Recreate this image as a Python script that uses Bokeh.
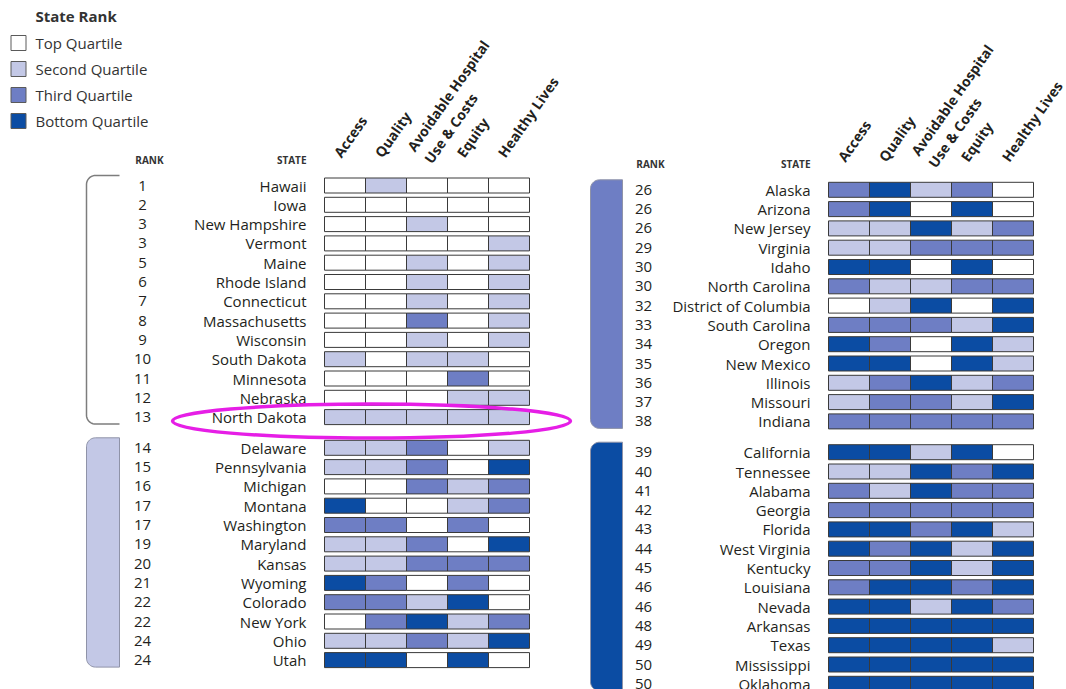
import numpy as np
from bokeh.plotting import figure
from bokeh.models import Range1d
from bokeh.embed import file_html
from bokeh.resources import INLINE
from bokeh.core.properties import value

# ---------------- data ----------------
legend_title = "State Rank"
quartile_labels = ["Top Quartile", "Second Quartile", "Third Quartile", "Bottom Quartile"]
quartile_colors = ["#ffffff", "#c3c8e6", "#6e7ec4", "#0b4ca3"]

metrics = ["Access", "Quality", "Avoidable Hospital\nUse & Costs", "Equity", "Healthy Lives"]
rank_header = "RANK"
state_header = "STATE"
highlight_state = "North Dakota"

# scores: quartile per dimension (1 = top ... 4 = bottom)
top_states = ["Hawaii", "Iowa", "New Hampshire", "Vermont", "Maine", "Rhode Island",
              "Connecticut", "Massachusetts", "Wisconsin", "South Dakota", "Minnesota",
              "Nebraska", "North Dakota"]
top_ranks = [1, 2, 3, 3, 5, 6, 7, 8, 9, 10, 11, 12, 13]
top_scores = [[1, 2, 1, 1, 1], [1, 1, 1, 1, 1], [1, 1, 2, 1, 1], [1, 1, 1, 1, 2],
              [1, 1, 2, 1, 2], [1, 1, 2, 1, 2], [1, 1, 2, 1, 2], [1, 1, 3, 1, 2],
              [1, 1, 2, 1, 2], [2, 1, 2, 2, 1], [1, 1, 1, 3, 1], [1, 1, 1, 2, 2],
              [2, 2, 2, 2, 2]]

second_states = ["Delaware", "Pennsylvania", "Michigan", "Montana", "Washington", "Maryland",
                 "Kansas", "Wyoming", "Colorado", "New York", "Ohio", "Utah"]
second_ranks = [14, 15, 16, 17, 17, 19, 20, 21, 22, 22, 24, 24]
second_scores = [[2, 2, 3, 1, 2], [2, 2, 3, 1, 4], [1, 1, 3, 2, 3], [4, 1, 1, 2, 3],
                 [3, 3, 1, 3, 1], [2, 2, 3, 1, 4], [2, 2, 3, 3, 3], [4, 3, 1, 3, 1],
                 [3, 3, 2, 4, 1], [1, 3, 4, 2, 3], [2, 2, 3, 2, 4], [4, 4, 1, 4, 1]]

third_states = ["Alaska", "Arizona", "New Jersey", "Virginia", "Idaho", "North Carolina",
                "District of Columbia", "South Carolina", "Oregon", "New Mexico", "Illinois",
                "Missouri", "Indiana"]
third_ranks = [26, 26, 26, 29, 30, 30, 32, 33, 34, 35, 36, 37, 38]
third_scores = [[3, 4, 2, 3, 1], [3, 4, 1, 4, 1], [2, 2, 4, 2, 3], [2, 2, 3, 3, 3],
                [4, 4, 1, 4, 1], [3, 2, 2, 3, 3], [1, 2, 4, 1, 4], [3, 3, 3, 2, 4],
                [4, 3, 1, 4, 2], [4, 4, 1, 4, 2], [2, 3, 4, 2, 3], [2, 3, 3, 2, 4],
                [3, 3, 3, 3, 3]]

bottom_states = ["California", "Tennessee", "Alabama", "Georgia", "Florida", "West Virginia",
                 "Kentucky", "Louisiana", "Nevada", "Arkansas", "Texas", "Mississippi",
                 "Oklahoma"]
bottom_ranks = [39, 40, 41, 42, 43, 44, 45, 46, 46, 48, 49, 50, 50]
bottom_scores = [[4, 4, 2, 4, 1], [2, 2, 4, 3, 4], [3, 2, 4, 3, 3], [3, 3, 3, 3, 3],
                 [4, 4, 3, 4, 2], [4, 3, 4, 2, 4], [3, 3, 4, 2, 4], [3, 4, 4, 3, 4],
                 [4, 4, 2, 4, 3], [4, 4, 4, 4, 4], [4, 4, 4, 4, 2], [4, 4, 4, 4, 4],
                 [4, 4, 4, 4, 4]]

# ---------------- layout ----------------
W, H = 1066, 689
FONT = value("Open Sans")
TXT = "#231f20"
ROW = 19.3
CELL_W, CELL_H = 41, 15

sides = [
    dict(cell_x=324, state_x=306, rank_x=142, brk_x0=86, brk_x1=119),
    dict(cell_x=828, state_x=810, rank_x=643, brk_x0=590, brk_x1=622),
]
groups = [
    dict(states=top_states, ranks=top_ranks, scores=top_scores, q=0, side=0, y0=185.0),
    dict(states=second_states, ranks=second_ranks, scores=second_scores, q=1, side=0, y0=447.3),
    dict(states=third_states, ranks=third_ranks, scores=third_scores, q=2, side=1, y0=189.3),
    dict(states=bottom_states, ranks=bottom_ranks, scores=bottom_scores, q=3, side=1, y0=451.7),
]

p = figure(width=W, height=H, x_range=Range1d(0, W), y_range=Range1d(-H, 0),
           output_backend="svg", toolbar_location=None, min_border=0,
           x_axis_location=None, y_axis_location=None)
p.grid.visible = False
p.outline_line_color = None
p.background_fill_color = "white"
p.border_fill_color = "white"


def bracket(x0, x1, yt, yb, r=9, n=12):
    t = np.linspace(0, np.pi / 2, n)
    xs = [x1] + list(x0 + r - r * np.sin(t)) + list(x0 + r - r * np.cos(t)) + [x1]
    ys = [yt] + list(yt + r - r * np.cos(t)) + list(yb - r + r * np.sin(t)) + [yb]
    return xs, [-v for v in ys]


# brackets
for g in groups:
    s = sides[g["side"]]
    yt = g["y0"] - 10
    yb = g["y0"] + (len(g["states"]) - 1) * ROW + 7
    bx, by = bracket(s["brk_x0"], s["brk_x1"], yt, yb)
    if g["q"] == 0:
        p.line(bx, by, line_color="#7d7d7d", line_width=1.5)
    else:
        p.patch(bx, by, fill_color=quartile_colors[g["q"]], line_color="#8f93a8", line_width=1)

# cells, labels
cx, cy, cc = [], [], []
for g in groups:
    s = sides[g["side"]]
    ys = [-(g["y0"] + i * ROW) for i in range(len(g["states"]))]
    for i, row in enumerate(g["scores"]):
        for j, q in enumerate(row):
            cx.append(s["cell_x"] + (j + 0.5) * CELL_W)
            cy.append(ys[i])
            cc.append(quartile_colors[q - 1])
    p.text(x=[s["state_x"]] * len(ys), y=ys, text=g["states"], text_align="right",
           text_baseline="middle", text_font=FONT, text_font_size="15px", text_color=TXT)
    p.text(x=[s["rank_x"]] * len(ys), y=ys, text=[str(r) for r in g["ranks"]],
           text_align="center", text_baseline="middle", text_font=FONT,
           text_font_size="15px", text_color=TXT)

p.rect(x=cx, y=cy, width=CELL_W, height=CELL_H, fill_color=cc, line_color="#3a3a3a",
       line_width=1)

# column headers
for side_idx, s in enumerate(sides):
    g0 = [g for g in groups if g["side"] == side_idx][0]
    hy = -(g0["y0"] - 30)
    hx = [s["cell_x"] + (j + 0.5) * CELL_W - 8 for j in range(len(metrics))]
    p.text(x=hx, y=[hy] * len(metrics), text=metrics, angle=np.deg2rad(55),
           text_align="left", text_baseline="middle", text_font=FONT,
           text_font_size="14px", text_font_style="bold", text_color=TXT,
           text_line_height=1.1)
    ry = -(g0["y0"] - 26)
    p.text(x=[s["rank_x"] + 7], y=[ry], text=[rank_header], text_align="center",
           text_baseline="middle", text_font=FONT, text_font_size="10px",
           text_font_style="bold", text_color="#333333")
    p.text(x=[s["state_x"]], y=[ry], text=[state_header], text_align="right",
           text_baseline="middle", text_font=FONT, text_font_size="10px",
           text_font_style="bold", text_color="#333333")

# highlight ellipse
hi = top_states.index(highlight_state)
hy = groups[0]["y0"] + hi * ROW + 4
p.ellipse(x=[sides[0]["cell_x"] + 47], y=[-hy], width=398, height=34, fill_color=None,
          line_color="#e61ee6", line_width=3.5)

# legend
ly = [-(42.5 + 26 * k) for k in range(4)]
p.rect(x=[18] * 4, y=ly, width=15, height=15, fill_color=quartile_colors,
       line_color="#5a5a5a", line_width=1)
p.text(x=[35] * 4, y=ly, text=quartile_labels, text_align="left", text_baseline="middle",
       text_font=FONT, text_font_size="15px", text_color="#333333")
p.text(x=[35], y=[-15], text=[legend_title], text_align="left", text_baseline="middle",
       text_font=FONT, text_font_size="15px", text_font_style="bold", text_color="#333333")

open("out.html", "w").write(file_html(p, INLINE))
